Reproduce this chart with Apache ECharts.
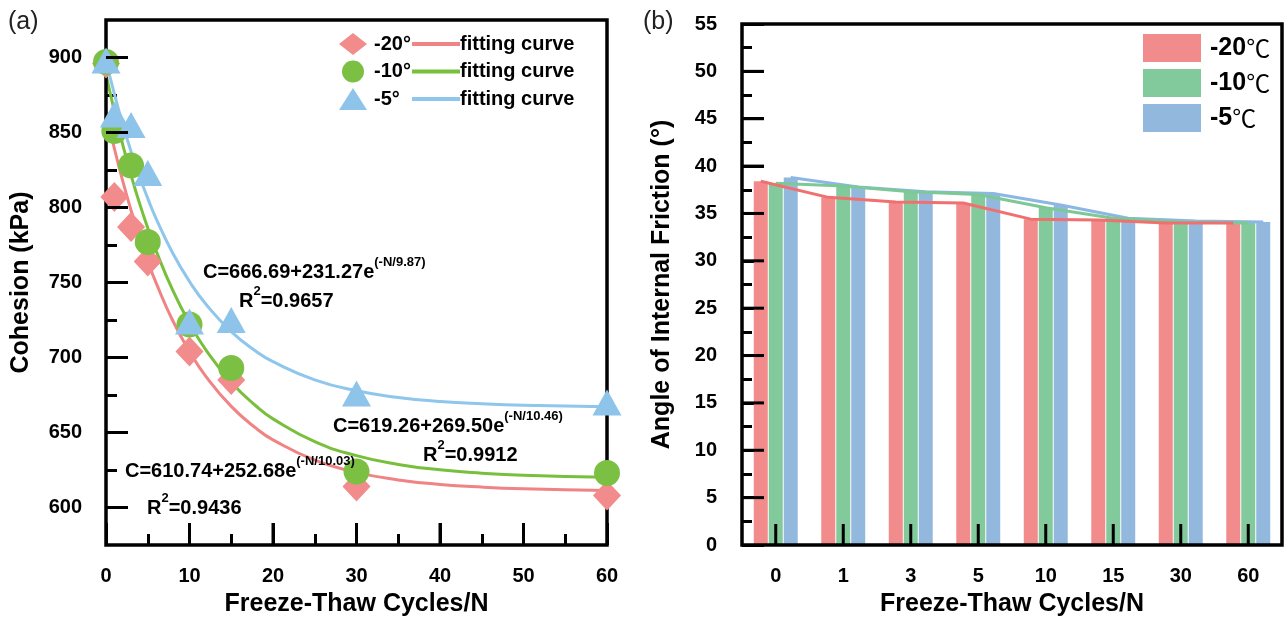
<!DOCTYPE html>
<html>
<head>
<meta charset="utf-8">
<title>Cohesion / Friction</title>
<script src="https://cdn.jsdelivr.net/npm/echarts@6/dist/echarts.min.js"></script>
<style>
  html, body { margin: 0; padding: 0; background: #fff; }
  #chart { width: 1285px; height: 622px; }
</style>
</head>
<body>
<div id="chart"></div>
<script>
// (a) 粘聚力 散点
const cycles = [0, 1, 3, 5, 10, 15, 30, 60]
const cohesion20 = [896, 807, 787, 764, 704, 685, 614, 608]
const cohesion10 = [897, 851, 828, 777, 722, 693, 624, 623]
const cohesion5 = [898, 862, 855, 823, 724, 725, 676, 670]

// (a) 拟合曲线
const fitN = [0, 1, 2, 3, 4, 5, 6, 8, 10, 12, 15, 18, 20, 25, 30, 35, 40, 45, 50, 60]
const fit20 = [863.4, 839.4, 817.7, 798.1, 780.3, 764.2, 749.7, 724.5, 704.0, 687.1, 667.4, 652.7, 645.1, 631.6, 623.4, 618.4, 615.4, 613.6, 612.5, 611.4]
const fit10 = [888.8, 864.2, 841.9, 821.6, 803.1, 786.4, 771.1, 744.7, 722.9, 704.8, 683.5, 667.5, 659.1, 643.9, 634.6, 628.7, 625.1, 622.9, 621.5, 620.1]
const fit5 = [898.0, 875.7, 855.5, 837.3, 820.9, 806.1, 792.6, 769.5, 750.7, 735.3, 717.3, 704.0, 697.2, 685.1, 677.8, 673.4, 670.7, 669.1, 668.1, 667.2]

const cohesionTicks = [600, 650, 700, 750, 800, 850, 900]
const cohesionMinor = [625, 675, 725, 775, 825, 875]
const cycleTicks = [10, 20, 30, 40, 50]

// (b) 内摩擦角
const cycleCats = ['0', '1', '3', '5', '10', '15', '30', '60']
const friction20 = [38.4, 36.7, 36.2, 36.1, 34.4, 34.3, 34.0, 34.0]
const friction10 = [38.2, 37.9, 37.3, 37.0, 35.6, 34.5, 34.1, 34.0]
const friction5 = [38.8, 37.8, 37.3, 37.1, 35.9, 34.5, 34.2, 34.1]
const frictionTicks = [5, 10, 15, 20, 25, 30, 35, 40, 45, 50]

const FONT = 'Liberation Sans, Arial, Noto Sans CJK SC, sans-serif'
const labelStyle = { color: '#000', fontFamily: FONT, fontWeight: 'bold', fontSize: 20 }
const nameStyle = { color: '#000', fontFamily: FONT, fontWeight: 'bold', fontSize: 25 }
// 轴线由 grid 边框画, 轴本身不画线
const noLine = () => ({ show: false, onZero: false })
const tickLine = () => ({ color: '#000', width: 3 })

const RED = '#f28b8b'
const GREEN = '#7cc043'
const BLUE = '#8ec4ea'
const BAR_RED = '#f28b8b'
const BAR_GREEN = '#82ca9c'
const BAR_BLUE = '#93b8de'

const BAR_W = 14
const lineOffset = 0.222 // 一根柱子的宽度 / 类目宽度

const pair = (xs, ys) => xs.map((x, i) => [x, ys[i]])
const shift = (ys, off) => ys.map((v, i) => [i + off, v])

const eqRich = {
  m: { fontFamily: FONT, fontWeight: 'bold', fontSize: 20, color: '#000', lineHeight: 32 },
  s: { fontFamily: FONT, fontWeight: 'bold', fontSize: 13, color: '#000', verticalAlign: 'top' }
}
function eqText(left, top, text) {
  return { type: 'text', left, top, z: 10, style: { text, rich: eqRich } }
}

// 只画小刻度的叠加轴 (无标签)
function tickAxis(extra) {
  return {
    axisLine: noLine(),
    axisLabel: { show: false },
    splitLine: { show: false },
    ...extra
  }
}

// 大刻度用 custom 系列画, 位置走轴的换算 (dx, dy 为刻度朝内的方向和长度)
function tickSeries(xAxisIndex, yAxisIndex, data, dx, dy) {
  return {
    type: 'custom', xAxisIndex, yAxisIndex, data, silent: true, clip: false, z: 20,
    renderItem: (params, api) => {
      const p = api.coord([api.value(0), api.value(1)])
      return {
        type: 'line',
        shape: { x1: p[0], y1: p[1], x2: p[0] + dx, y2: p[1] + dy },
        style: { stroke: '#000', lineWidth: 3 }
      }
    }
  }
}

const myChart = echarts.init(document.getElementById('chart'))
const option = {
  animation: false,
  backgroundColor: '#fff',
  grid: [
    { left: 106, top: 20, width: 501, height: 527, show: true, borderColor: '#000', borderWidth: 3.5, backgroundColor: 'transparent', z: 3 },
    { left: 742, top: 24, width: 540, height: 523, show: true, borderColor: '#000', borderWidth: 3.5, backgroundColor: 'transparent', z: 3 }
  ],
  xAxis: [
    {
      gridIndex: 0, type: 'value', min: 0, max: 60, interval: 10, position: 'bottom',
      name: 'Freeze-Thaw Cycles/N', nameLocation: 'middle', nameGap: 47, nameTextStyle: nameStyle,
      axisLine: noLine(),
      axisTick: { show: false },
      axisLabel: { ...labelStyle, margin: 21 },
      splitLine: { show: false }
    },
    {
      gridIndex: 1, type: 'category', data: cycleCats, boundaryGap: true, position: 'bottom',
      name: 'Freeze-Thaw Cycles/N', nameLocation: 'middle', nameGap: 47, nameTextStyle: nameStyle,
      axisLine: noLine(),
      axisTick: { show: false },
      axisLabel: { ...labelStyle, margin: 21 },
      splitLine: { show: false }
    },
    {
      // 折线用的隐藏轴, 让折点落在对应柱子上
      gridIndex: 1, type: 'value', min: -0.5, max: 7.5, show: false, position: 'top',
      axisLine: noLine()
    },
    tickAxis({
      gridIndex: 0, type: 'value', min: 0, max: 60, interval: 10, position: 'bottom',
      axisTick: { show: true, inside: true, length: 22, lineStyle: tickLine() },
      minorTick: { show: true, splitNumber: 2, length: 11, lineStyle: tickLine() }
    })
  ],
  yAxis: [
    {
      gridIndex: 0, type: 'value', min: 575, max: 925, position: 'left',
      name: 'Cohesion (kPa)', nameLocation: 'middle', nameGap: 72, nameTextStyle: nameStyle,
      axisLine: noLine(),
      axisTick: { show: false },
      axisLabel: { ...labelStyle, margin: 24, customValues: cohesionTicks },
      splitLine: { show: false }
    },
    tickAxis({
      gridIndex: 0, type: 'value', min: 575, max: 925, position: 'left',
      axisTick: { show: true, inside: true, length: 11, customValues: cohesionMinor, lineStyle: tickLine() }
    }),
    {
      gridIndex: 1, type: 'value', min: 0, max: 55, interval: 5, position: 'left',
      name: 'Angle of Internal Friction (°)', nameLocation: 'middle', nameGap: 67, nameTextStyle: nameStyle,
      axisLine: noLine(),
      axisTick: { show: false },
      axisLabel: { ...labelStyle, margin: 25 },
      splitLine: { show: false }
    },
    tickAxis({
      gridIndex: 1, type: 'value', min: 0, max: 55, interval: 5, position: 'left',
      axisTick: { show: true, inside: true, length: 22, lineStyle: tickLine() },
      minorTick: { show: true, splitNumber: 2, length: 10, lineStyle: tickLine() }
    })
  ],
  legend: [
    {
      data: ['-20°', '-10°', '-5°'], orient: 'vertical', left: 334, top: 28,
      itemWidth: 28, itemHeight: 22, itemGap: 5.5, selectedMode: false,
      textStyle: { ...labelStyle, fontSize: 20, lineHeight: 22, padding: [0, 0, 0, 2] }
    },
    {
      data: ['-20° fit', '-10° fit', '-5° fit'], orient: 'vertical', left: 407, top: 28,
      icon: 'rect', itemWidth: 48, itemHeight: 4, itemGap: 5.5, selectedMode: false,
      formatter: () => 'fitting curve',
      textStyle: { ...labelStyle, fontSize: 20, lineHeight: 22, padding: [0, 0, 0, -5] }
    },
    {
      data: ['-20℃', '-10℃', '-5℃'], orient: 'vertical', left: 1138, top: 29,
      icon: 'rect', itemWidth: 58, itemHeight: 28, itemGap: 7, selectedMode: false,
      formatter: name => '{b|' + name.replace('℃', '') + '}{n|℃}',
      textStyle: {
        padding: [0, 0, 0, 4],
        rich: {
          b: { fontFamily: FONT, fontWeight: 'bold', fontSize: 25, color: '#000' },
          n: { fontFamily: 'Noto Sans CJK SC, DejaVu Sans, sans-serif', fontSize: 24, color: '#000' }
        }
      }
    }
  ],
  graphic: [
    { type: 'text', left: 8, top: 10, style: { text: '(a)', fontFamily: FONT, fontSize: 25, fill: '#222' } },
    { type: 'text', left: 643, top: 10, style: { text: '(b)', fontFamily: FONT, fontSize: 25, fill: '#222' } },
    eqText(203, 256, '{m|C=666.69+231.27e}{s|(-N/9.87)}'),
    eqText(239, 285, '{m|R}{s|2}{m|=0.9657}'),
    eqText(333, 410, '{m|C=619.26+269.50e}{s|(-N/10.46)}'),
    eqText(423, 439, '{m|R}{s|2}{m|=0.9912}'),
    eqText(125, 455, '{m|C=610.74+252.68e}{s|(-N/10.03)}'),
    eqText(147, 492, '{m|R}{s|2}{m|=0.9436}')
  ],
  series: [
    // (a) 拟合曲线
    { name: '-20° fit', type: 'line', xAxisIndex: 0, yAxisIndex: 0, data: pair(fitN, fit20), smooth: true, showSymbol: false, symbol: 'none', lineStyle: { color: '#f08383', width: 3 }, itemStyle: { color: '#f08383' }, z: 2 },
    { name: '-10° fit', type: 'line', xAxisIndex: 0, yAxisIndex: 0, data: pair(fitN, fit10), smooth: true, showSymbol: false, symbol: 'none', lineStyle: { color: '#78bf3c', width: 3 }, itemStyle: { color: '#78bf3c' }, z: 2 },
    { name: '-5° fit', type: 'line', xAxisIndex: 0, yAxisIndex: 0, data: pair(fitN, fit5), smooth: true, showSymbol: false, symbol: 'none', lineStyle: { color: '#8ec6ec', width: 3 }, itemStyle: { color: '#8ec6ec' }, z: 2 },
    // (a) 散点
    { name: '-20°', type: 'scatter', xAxisIndex: 0, yAxisIndex: 0, data: pair(cycles, cohesion20), clip: true, symbol: 'diamond', symbolSize: [28, 30], itemStyle: { color: RED, opacity: 1 }, z: 3 },
    { name: '-10°', type: 'scatter', xAxisIndex: 0, yAxisIndex: 0, data: pair(cycles, cohesion10), clip: true, symbol: 'circle', symbolSize: 26, itemStyle: { color: GREEN, opacity: 1 }, z: 4 },
    { name: '-5°', type: 'scatter', xAxisIndex: 0, yAxisIndex: 0, data: pair(cycles, cohesion5), clip: true, symbol: 'triangle', symbolSize: [29, 26], itemStyle: { color: BLUE, opacity: 1 }, z: 5 },
    // (b) 柱子
    { name: '-20℃', type: 'bar', xAxisIndex: 1, yAxisIndex: 2, data: friction20, barWidth: BAR_W, barGap: '7%', itemStyle: { color: BAR_RED } },
    { name: '-10℃', type: 'bar', xAxisIndex: 1, yAxisIndex: 2, data: friction10, barWidth: BAR_W, barGap: '7%', itemStyle: { color: BAR_GREEN } },
    { name: '-5℃', type: 'bar', xAxisIndex: 1, yAxisIndex: 2, data: friction5, barWidth: BAR_W, barGap: '7%', itemStyle: { color: BAR_BLUE } },
    // (b) 折线
    { name: 'l20', type: 'line', xAxisIndex: 2, yAxisIndex: 2, data: shift(friction20, -lineOffset), symbol: 'none', lineStyle: { color: '#f07070', width: 3 }, z: 5 },
    { name: 'l10', type: 'line', xAxisIndex: 2, yAxisIndex: 2, data: shift(friction10, 0), symbol: 'none', lineStyle: { color: '#7cc995', width: 3 }, z: 4 },
    { name: 'l5', type: 'line', xAxisIndex: 2, yAxisIndex: 2, data: shift(friction5, lineOffset), symbol: 'none', lineStyle: { color: '#8cb6e4', width: 3 }, z: 3 },
    // 大刻度
    tickSeries(0, 0, cohesionTicks.map(v => [0, v]), 22, 0),
    tickSeries(0, 0, cycleTicks.map(v => [v, 575]), 0, -22),
    tickSeries(2, 2, frictionTicks.map(v => [-0.5, v]), 22, 0),
    tickSeries(1, 2, cycleCats.map((c, i) => [i, 0]), 0, -21)
  ]
}
myChart.setOption(option)
</script>
</body>
</html>
